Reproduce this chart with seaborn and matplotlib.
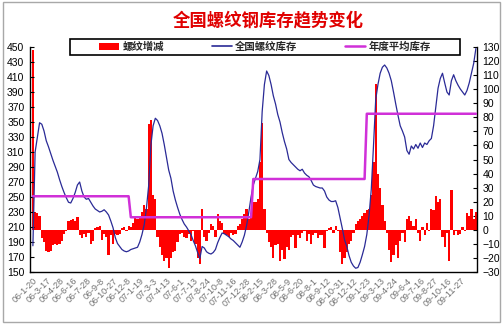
import matplotlib
matplotlib.use("Agg")
import matplotlib.pyplot as plt
from matplotlib import font_manager
from matplotlib.patches import Rectangle, Patch
from matplotlib.lines import Line2D
import seaborn as sns
import pandas as pd

sns.set_theme(style="white")
CJK = ["Noto Sans CJK SC", "DejaVu Sans"]
names = {f.name for f in font_manager.fontManager.ttflist}
NUM = "Liberation Sans Narrow" if "Liberation Sans Narrow" in names else "Liberation Sans"
plt.rcParams["font.family"] = [NUM, "DejaVu Sans"]

title = "全国螺纹钢库存趋势变化"
legend_labels = ["螺纹增减", "全国螺纹库存", "年度平均库存"]

date_labels = ["06-1-20", "06-3-17", "06-4-28", "06-6-16", "06-7-28", "06-9-8", "06-10-27",
               "06-12-8", "07-1-19", "07-3-3", "07-4-13", "07-6-1", "07-7-13", "07-8-24",
               "07-10-8", "07-11-16", "07-12-28", "08-2-15", "08-3-28", "08-5-9", "08-6-20",
               "08-8-1", "08-9-12", "08-10-31", "08-12-12", "09-1-23", "09-3-13", "09-4-24",
               "09-6-4", "09-7-16", "09-8-27", "09-10-16", "09-11-27"]

# weekly national rebar inventory (left axis)
stock = [185, 310, 330, 349, 347, 338, 325, 317, 308, 299,
         291, 283, 273, 264, 256, 249, 243, 242, 248, 256,
         266, 270, 258, 250, 247, 248, 243, 238, 234, 232,
         230, 231, 233, 230, 226, 218, 209, 196, 188, 184,
         180, 178, 177, 178, 180, 181, 182, 183, 190, 200,
         213, 235, 265, 319, 345, 355, 352, 345, 335, 320,
         303, 286, 275, 258, 246, 236, 227, 220, 214, 210,
         205, 200, 192, 185, 176, 168, 184, 182, 177, 175,
         174, 176, 180, 189, 196, 202, 201, 199, 197, 194,
         192, 189, 186, 183, 190, 199, 212, 230, 250, 266,
         275, 284, 300, 364, 400, 418, 412, 400, 385, 374,
         360, 350, 336, 324, 314, 300, 296, 293, 290, 287,
         285, 287, 282, 279, 277, 272, 266, 264, 263, 262,
         262, 258, 250, 246, 244, 244, 245, 236, 222, 208,
         193, 184, 172, 163, 158, 155, 156, 163, 173, 184,
         200, 225, 260, 318, 380, 400, 415, 423, 426, 422,
         415, 405, 390, 374, 359, 345, 338, 330, 312, 307,
         318, 314, 320, 315, 322, 316, 322, 320, 325, 328,
         345, 370, 395, 408, 415, 402, 390, 386, 405, 413,
         405, 399, 394, 390, 386, 392, 402, 415, 428, 448]

# weekly change (right axis)
change = [128, 13, 12, 10, -6, -9, -15, -16, -15, -11,
          -10, -11, -10, -8, -3, -1, 6, 7, 8, 6,
          9, -4, -6, -3, -5, -2, -10, -8, 1, 2,
          3, -7, -3, -5, -18, -4, -10, -3, -4, -3,
          1, 2, -1, 3, 2, 5, 9, 8, 10, 13,
          18, 15, 75, 78, 25, 22, -5, -12, -18, -22,
          -20, -27, -20, -16, -15, -9, -3, -2, -5, -6,
          -3, -8, -1, -10, -20, -24, 15, -5, -8, -2,
          4, 3, -5, 11, 6, 5, -3, -4, -5, -2,
          -4, -3, 3, 4, 8, 11, 15, 8, 12, 20,
          20, 22, 48, 76, 15, -2, -9, -12, -20, -11,
          -10, -22, -14, -21, -12, -14, -5, -4, -13, -4,
          -6, -2, -1, -8, -3, -10, -4, -2, -6, -4,
          -4, -13, -1, 1, 2, -2, 3, -1, -16, -24,
          -20, -16, -10, -8, -2, 4, 6, 8, 10, 12,
          14, 15, 25, 48, 104, 40, 30, 18, 6, -2,
          -14, -23, -18, -11, -20, -8, -2, -9, 8, 10,
          6, 3, 8, -2, -8, 2, -4, 5, -1, 15,
          14, 24, 20, 22, -5, -12, -2, -22, 28, -4,
          -1, -4, -3, 2, -1, 12, 10, 15, 8, 13]

# yearly average inventory and number of weekly points in each year
year_avg = [251, 223, 274, 361]
year_weeks = [44, 55, 51, 50]

avg = []
for v, n in zip(year_avg, year_weeks):
    avg += [v] * n

idx = list(range(len(stock)))
df = pd.DataFrame({"i": idx, "stock": stock, "change": change, "avg": avg})

fig = plt.figure(figsize=(5.04, 3.27), dpi=100)
fig.patch.set_facecolor("white")
ax = fig.add_axes([30 / 504, 1 - 272 / 327, 447 / 504, 225 / 327])
ax2 = ax.twinx()

sns.barplot(data=df, x="i", y="change", color="#FF0000", saturation=1,
            width=1.0, ax=ax, linewidth=0, zorder=2)
sns.lineplot(data=df, x="i", y="stock", color="#2A2A96", linewidth=0.9, ax=ax2, zorder=3)
sns.lineplot(data=df, x="i", y="avg", color="#D030D8", linewidth=1.8, ax=ax2, zorder=4)

# right axis: weekly change
ax.set_ylim(-30, 130)
ax.set_yticks(range(-30, 131, 10))
ax.yaxis.set_ticks_position("right")
ax.yaxis.set_label_position("right")
ax.tick_params(axis="y", direction="in", length=3, width=0.8, colors="black",
               labelsize=7.5, pad=4, right=True, left=False,
               labelright=True, labelleft=False)

# left axis: inventory
ax2.set_ylim(150, 450)
ax2.set_yticks(range(150, 451, 20))
ax2.yaxis.set_ticks_position("left")
ax2.yaxis.set_label_position("left")
ax2.tick_params(axis="y", direction="in", length=3, width=0.8, colors="black",
                labelsize=7.5, pad=4, left=True, right=False,
                labelleft=True, labelright=False)
ax2.set_ylabel("")
ax.set_ylabel("")
ax.set_xlabel("")
ax2.set_xlabel("")

ax.set_xlim(-1.3, len(stock) - 0.5)
ax.set_xticks(range(0, 6 * len(date_labels), 6))
ax.set_xticklabels(date_labels, rotation=45, ha="right", rotation_mode="anchor",
                   fontsize=6.5, color="#707070")
ax.tick_params(axis="x", length=0, pad=3)

for a in (ax, ax2):
    for s in a.spines.values():
        s.set_visible(False)
ax.spines["left"].set_visible(True)
ax.spines["right"].set_visible(True)
ax.spines["bottom"].set_visible(True)
for s in ("left", "right"):
    ax.spines[s].set_color("black")
    ax.spines[s].set_linewidth(1.0)
ax.spines["bottom"].set_color("black")
ax.spines["bottom"].set_linewidth(1.0)
ax.spines["bottom"].set_linestyle((0, (1, 1)))
ax.grid(False)
ax2.grid(False)

fig.text(268 / 504, 1 - 20 / 327, title, color="#E00000", fontsize=12.5,
         fontweight="bold", ha="center", va="center", family=CJK)

# legend box
fig.patches.append(Rectangle((70 / 504, 1 - 55 / 327), 390 / 504, 16 / 327,
                             transform=fig.transFigure, facecolor="white",
                             edgecolor="black", linewidth=1.2, zorder=9))
handles = [Patch(facecolor="#FF0000", edgecolor="none"),
           Line2D([], [], color="#2A2A96", lw=1.2),
           Line2D([], [], color="#D030D8", lw=1.8)]
leg = fig.legend(handles, legend_labels, loc="center",
                 bbox_to_anchor=(265 / 504, 1 - 47 / 327),
                 ncol=3, frameon=False, borderpad=0.0,
                 handlelength=1.9, handleheight=0.8, handletextpad=0.35,
                 columnspacing=4.6,
                 prop={"family": CJK, "size": 7.5, "weight": "bold"})
leg.set_zorder(10)

fig.patches.append(Rectangle((3 / 504, 5 / 327), 497 / 504, 320 / 327,
                             transform=fig.transFigure, fill=False,
                             edgecolor="#A8A8A8", linewidth=1.0))

fig.savefig("out.png", dpi=100, facecolor="white")
